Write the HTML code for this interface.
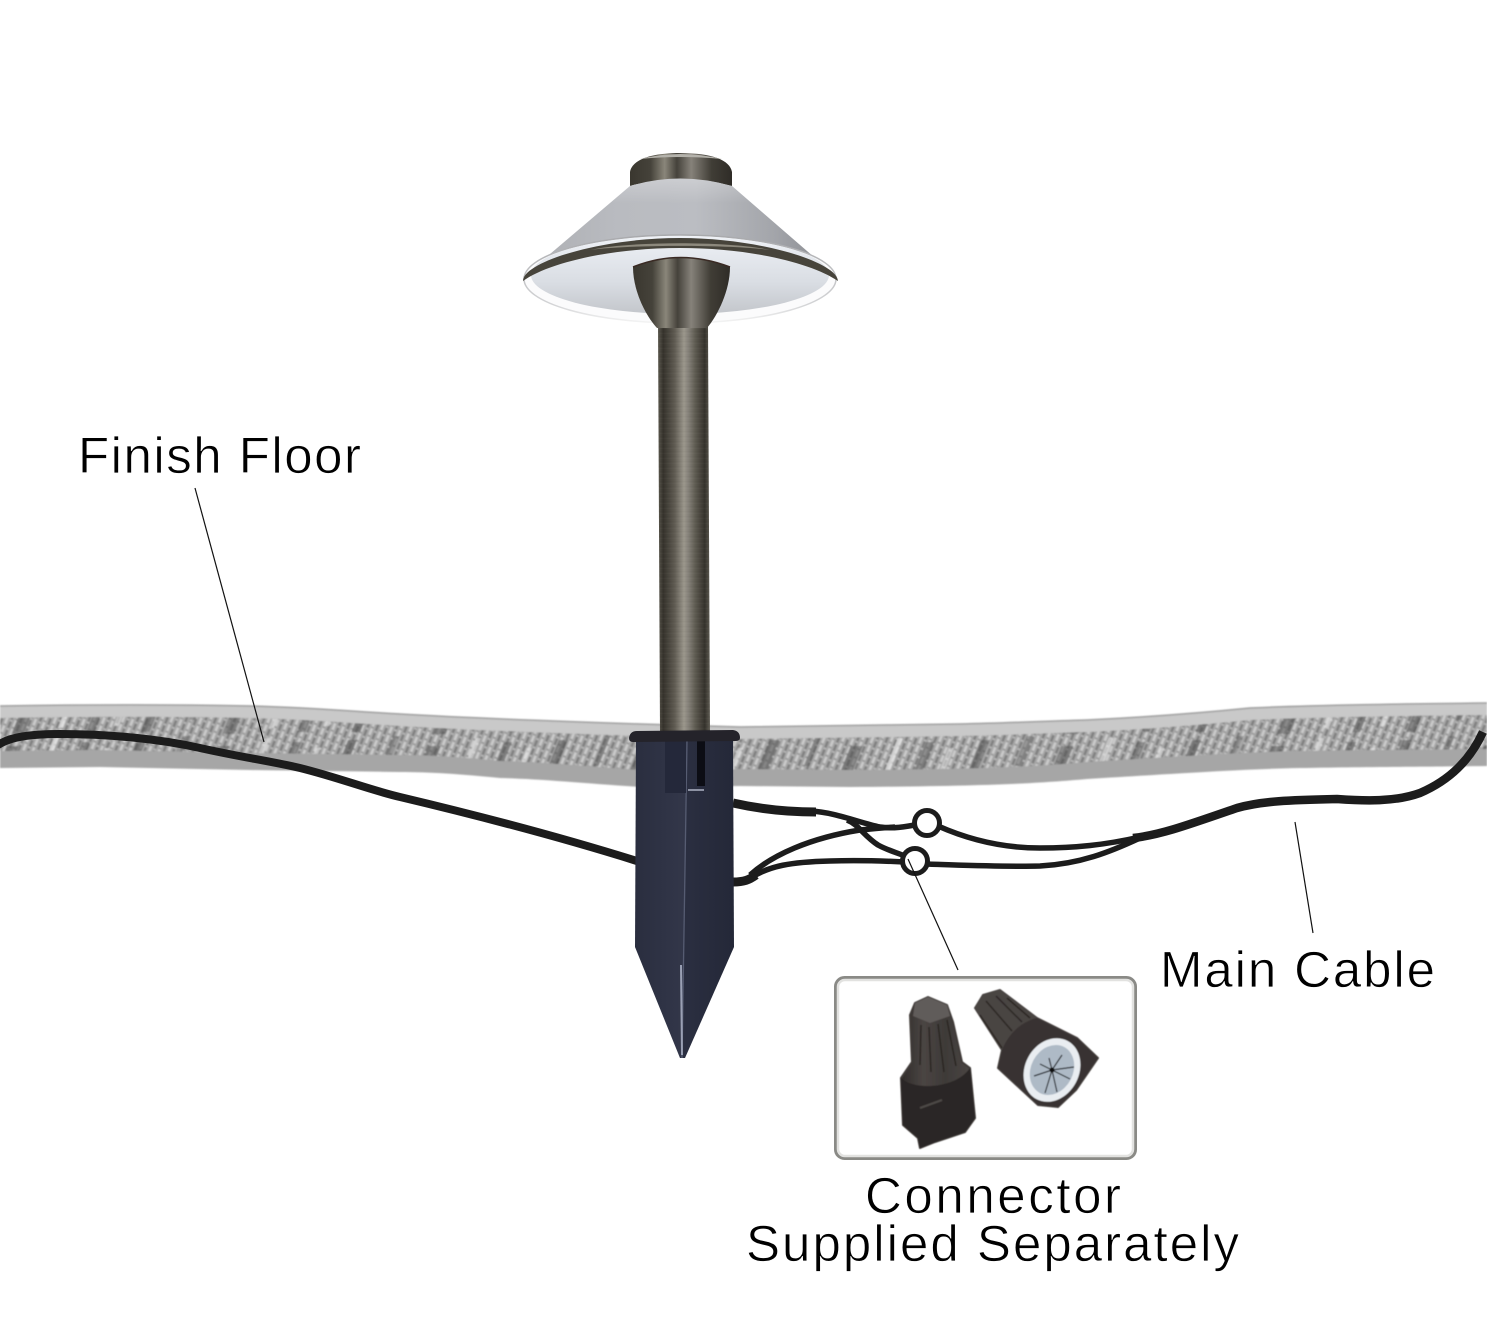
<!DOCTYPE html>
<html lang="en">
<head>
<meta charset="utf-8">
<title>Path light installation diagram</title>
<style>
html,body{margin:0;padding:0;background:#fff;width:1487px;height:1333px;overflow:hidden}
svg{display:block}
text{font-family:"Liberation Sans",Arial,sans-serif;font-size:51px;fill:#000;stroke:#fff;stroke-width:.7px}
</style>
</head>
<body>
<svg xmlns="http://www.w3.org/2000/svg" width="1487" height="1333" viewBox="0 0 1487 1333">
<defs>
  <filter id="soft" x="-2%" y="-10%" width="104%" height="120%"><feGaussianBlur stdDeviation="0.8"/></filter>
  <filter id="soft2" x="-5%" y="-5%" width="110%" height="110%"><feGaussianBlur stdDeviation="0.5"/></filter>
  <pattern id="fine" patternUnits="userSpaceOnUse" width="9" height="9" patternTransform="rotate(22)">
    <rect width="9" height="9" fill="#a6a6a6"/>
    <rect x="0" width="2.5" height="9" fill="#808080"/>
    <rect x="4.5" width="2.5" height="9" fill="#cbcbcb"/>
    <rect x="4.5" y="3" width="2.5" height="2" fill="#9a9a9a"/>
    <rect x="0" y="6" width="2.5" height="2" fill="#b5b5b5"/>
  </pattern>
  <pattern id="coarse" patternUnits="userSpaceOnUse" width="211" height="46" patternTransform="skewX(-22)">
    <rect x="14" y="4" width="9" height="38" fill="#4c4c4c" opacity=".55"/>
    <rect x="58" y="0" width="6" height="30" fill="#565656" opacity=".45"/>
    <rect x="97" y="10" width="12" height="34" fill="#4a4a4a" opacity=".5"/>
    <rect x="141" y="2" width="5" height="36" fill="#efefef" opacity=".6"/>
    <rect x="171" y="6" width="8" height="36" fill="#505050" opacity=".5"/>
    <rect x="196" y="12" width="5" height="24" fill="#f0f0f0" opacity=".5"/>
  </pattern>
  <pattern id="brush" patternUnits="userSpaceOnUse" width="60" height="5">
    <rect y="1" width="60" height="1" fill="#000" opacity=".025"/>
    <rect y="3" width="60" height="1" fill="#fff" opacity=".02"/>
  </pattern>
  <linearGradient id="stem" x1="0" x2="1" y1="0" y2="0">
    <stop offset="0" stop-color="#5c594f"/><stop offset=".1" stop-color="#35322b"/>
    <stop offset=".32" stop-color="#5f5b52"/><stop offset=".5" stop-color="#9a968b"/>
    <stop offset=".58" stop-color="#86827a"/><stop offset=".72" stop-color="#5d5a50"/>
    <stop offset=".9" stop-color="#35322c"/><stop offset="1" stop-color="#5f5c53"/>
  </linearGradient>
  <linearGradient id="bronze" x1="0" x2="1" y1="0" y2="0">
    <stop offset="0" stop-color="#3a372f"/><stop offset=".2" stop-color="#45423a"/>
    <stop offset=".34" stop-color="#8a867a"/><stop offset=".46" stop-color="#45423b"/>
    <stop offset=".6" stop-color="#86827a"/><stop offset=".8" stop-color="#403d36"/>
    <stop offset="1" stop-color="#2f2c27"/>
  </linearGradient>
  <linearGradient id="shade" x1="0" x2="1" y1="0" y2="0">
    <stop offset="0" stop-color="#acaeb2"/><stop offset=".3" stop-color="#b9bbc0"/>
    <stop offset=".55" stop-color="#bbbdc2"/><stop offset=".8" stop-color="#a3a5aa"/>
    <stop offset="1" stop-color="#85878c"/>
  </linearGradient>
  <linearGradient id="shadeV" x1="0" x2="0" y1="0" y2="1">
    <stop offset="0" stop-color="#fff" stop-opacity=".25"/><stop offset=".25" stop-color="#fff" stop-opacity="0"/>
  </linearGradient>
  <linearGradient id="under" x1="0" x2="0" y1="0" y2="1">
    <stop offset="0" stop-color="#eef1f6"/><stop offset=".6" stop-color="#d9dde3"/>
    <stop offset="1" stop-color="#c3c6cb"/>
  </linearGradient>
  <linearGradient id="rimEdge" x1="0" x2="0" y1="0" y2="1">
    <stop offset="0" stop-color="#a8a9ac"/><stop offset=".8" stop-color="#d4d5d7"/><stop offset="1" stop-color="#f4f4f4"/>
  </linearGradient>
  <linearGradient id="spikeL" x1="0" x2="1" y1="0" y2="0">
    <stop offset="0" stop-color="#2a2e3f"/><stop offset="1" stop-color="#33374a"/>
  </linearGradient>
  <linearGradient id="spikeR" x1="0" x2="1" y1="0" y2="0">
    <stop offset="0" stop-color="#2b2f41"/><stop offset="1" stop-color="#242838"/>
  </linearGradient>
  <linearGradient id="nut" x1="0" x2="1" y1="0" y2="0">
    <stop offset="0" stop-color="#2f2b29"/><stop offset=".3" stop-color="#4a4543"/>
    <stop offset=".6" stop-color="#3e3a38"/><stop offset="1" stop-color="#4c4846"/>
  </linearGradient>
  <clipPath id="bandMid">
    <path d="M0,718 C60,717 150,716 250,718 C320,720 360,724 400,726 C450,729 520,732 640,736 L740,739 C820,738 900,737 960,736 C1010,735 1050,733 1087,732 C1150,729 1200,725 1250,720 C1320,717 1400,716 1487,715 L1487,749 C1400,750 1350,750 1300,751 C1250,752 1200,755 1087,762 C1040,766 1000,769 850,770 L740,769 640,770 C580,766 540,762 500,761 C460,757 430,755 400,755 L250,753 100,750 0,751 Z"/>
  </clipPath>
</defs>

<rect width="1487" height="1333" fill="#fff"/>

<!-- ground band -->
<g filter="url(#soft)">
<path d="M0,706 C60,705 150,704 250,706 C320,708 360,712 400,714 C450,717 520,720 640,724 L740,727 C820,726 900,725 960,724 C1010,723 1050,721 1087,720 C1150,717 1200,713 1250,708 C1320,705 1400,704 1487,703 L1487,766 C1400,767 1350,767 1300,768 C1250,769 1200,772 1087,779 C1040,783 1000,786 850,787 L740,786 640,787 C580,783 540,779 500,778 C460,774 430,772 400,772 L250,770 100,767 0,768 Z" fill="#a6a6a6"/>
<path d="M0,706 C60,705 150,704 250,706 C320,708 360,712 400,714 C450,717 520,720 640,724 L740,727 C820,726 900,725 960,724 C1010,723 1050,721 1087,720 C1150,717 1200,713 1250,708 C1320,705 1400,704 1487,703 L1487,715 C1400,716 1320,717 1250,720 C1200,725 1150,729 1087,732 C1050,733 1010,735 960,736 C900,737 820,738 740,739 L640,736 C520,732 450,729 400,726 C360,724 320,720 250,718 C150,716 60,717 0,718 Z" fill="#c9c9c9"/>
<path d="M0,706 C60,705 150,704 250,706 C320,708 360,712 400,714 C450,717 520,720 640,724 L740,727 C820,726 900,725 960,724 C1010,723 1050,721 1087,720 C1150,717 1200,713 1250,708 C1320,705 1400,704 1487,703" fill="none" stroke="#9c9c9c" stroke-width="1.5"/>
<g clip-path="url(#bandMid)">
  <rect x="0" y="700" width="1487" height="90" fill="url(#fine)"/>
  <rect x="0" y="700" width="1487" height="90" fill="url(#coarse)"/>
</g>
</g>

<!-- leader lines -->
<g stroke="#111" stroke-width="1.2" fill="none">
  <line x1="195" y1="488" x2="264" y2="742"/>
  <line x1="1295" y1="822" x2="1313" y2="933"/>
</g>

<!-- left cable -->
<path d="M-2,745 C10,737 30,734 60,734 C110,734 160,739 200,748 C240,757 270,761 300,768 C340,778 370,790 400,797 C480,816 570,840 640,862" fill="none" stroke="#1c1c1c" stroke-width="8"/>

<!-- right wires -->
<g fill="none" stroke="#1c1c1c" stroke-linecap="butt">
  <path d="M733,803 C755,808 785,812 816,812" stroke-width="9"/>
  <path d="M810,811 C835,812 860,823 880,827 C892,829 905,827 920,824" stroke-width="5.5"/>
  <path d="M847,820 C858,824 864,836 878,845 C887,850 895,852 905,856" stroke-width="5.5"/>
  <path d="M733,882 C744,882 749,880 756,875" stroke-width="9"/>
  <path d="M750,875 C772,855 810,838 860,830 C870,829 880,828 895,827" stroke-width="5.5"/>
  <path d="M752,877 C770,866 790,862 830,861 C860,860 885,861 905,862" stroke-width="5.5"/>
  <path d="M938,826 C965,838 1000,848 1040,848 C1075,848 1105,845 1140,837" stroke-width="5.5"/>
  <path d="M925,864 C960,865 1000,867 1040,866 C1080,864 1110,852 1140,838" stroke-width="5.5"/>
  <path d="M1133,838 C1160,835 1185,826 1237,808 C1262,801 1290,800 1337,799 C1365,801 1395,802 1420,793 C1450,780 1470,760 1483,732" stroke-width="8.5"/>
</g>
<circle cx="927" cy="823" r="12.5" fill="#fff" stroke="#1c1c1c" stroke-width="5"/>
<circle cx="915" cy="861" r="12.5" fill="#fff" stroke="#1c1c1c" stroke-width="5"/>
<line x1="908" y1="859" x2="958" y2="970" stroke="#111" stroke-width="1.2"/>

<!-- stem -->
<path d="M658,324 L708,324 L710,732 L660,732 Z" fill="url(#stem)"/>
<path d="M658,324 L708,324 L710,732 L660,732 Z" fill="url(#brush)"/>

<!-- lamp head -->
<path d="M630,186 L630,172 C632,160 650,153 680,153 C712,153 730,160 732,172 L732,186 Q680,172 630,186 Z" fill="url(#bronze)"/>
<path d="M640,159 Q680,149 722,159 Q680,155 640,159 Z" fill="#b4b2ab"/>
<path d="M630,186 Q680,171 732,186 L837,277 L523,277 Z" fill="url(#shade)"/>
<path d="M630,186 Q680,171 732,186 L837,277 L523,277 Z" fill="url(#shadeV)"/>
<ellipse cx="680" cy="279" rx="156" ry="44" fill="#fbfbfc" stroke="url(#rimEdge)" stroke-width="1.5"/>
<ellipse cx="680" cy="275" rx="149" ry="39" fill="url(#under)"/>
<path d="M523,281 C523,262 600,238 680,238 C760,238 837,262 838,281 C812,263 750,248 680,248 C610,248 548,263 523,281 Z" fill="#47443b"/>
<path d="M590,250 C630,241 730,241 770,250 C730,244.500 630,244.500 590,250 Z" fill="#8d897d"/>
<path d="M633,267 Q680,248 730,267 C730,290 718,315 707,328 L657,328 C645,315 633,290 633,267 Z" fill="url(#bronze)"/>
<path d="M633,267 Q680,248 730,267" fill="none" stroke="#3a2a24" stroke-width="1.5"/>

<!-- spike -->
<path d="M636,741 L687,741 L682,1058 L680,1058 L635,947 Z" fill="url(#spikeL)"/>
<path d="M687,741 L733,741 L734,947 L685,1058 L682,1058 Z" fill="url(#spikeR)"/>
<path d="M687,741 L682,1058" stroke="#565c72" stroke-width="1.3" fill="none"/>
<path d="M681,965 L682,1055" stroke="#9aa0b4" stroke-width="2" fill="none"/>
<rect x="665" y="741" width="21" height="52" fill="#24283a"/>
<rect x="697" y="741" width="8" height="45" fill="#0c0d14"/>
<path d="M688,790 L704,790" stroke="#8d92a3" stroke-width="2"/>
<path d="M629,738 Q630,731 637,731 L733,730 Q740,731 740,738 Q740,741 735,741 L633,742 Q629,742 629,738 Z" fill="#24232a"/>

<!-- connector box -->
<rect x="835.500" y="977.500" width="300" height="181" rx="9" fill="#fff" stroke="#8a8a86" stroke-width="3"/>
<rect x="838" y="980" width="295" height="176" rx="7" fill="none" stroke="#e2e2e0" stroke-width="2.500"/>

<!-- left wire nut -->
<g filter="url(#soft2)" stroke-linejoin="round">
<path d="M915,1003 L928,997 L947,1005 L953,1022 L962,1062 L970,1068 L975,1118 L965,1132 L935,1142 L920,1148 L918,1138 L903,1125 L901,1078 L912,1062 L910,1015 Z" fill="url(#nut)" stroke="#3f3b39" stroke-width="2"/>
<path d="M915,1003 L928,997 L947,1005 L950,1016 L930,1023 L913,1016 Z" fill="#615c5a"/>
<path d="M901,1078 C912,1090 955,1090 970,1068 L975,1118 L965,1132 L935,1142 L920,1148 L918,1138 L903,1125 Z" fill="#2b2725"/>
<g stroke="#292523" stroke-width="1.5" fill="none">
  <path d="M921,1025 L920,1065"/><path d="M929,1027 L931,1072"/><path d="M938,1024 L944,1072"/><path d="M947,1020 L956,1066"/>
</g>
<path d="M920,1108 L942,1100" stroke="#4e4a47" stroke-width="2"/>

<!-- right wire nut -->
<path d="M975,1008 L983,995 L1000,990 L1037,1018 L1077,1038 L1098,1058 L1076,1090 L1058,1107 L1038,1105 L998,1068 L1002,1050 Z" fill="#4a4543" stroke="#4a4543" stroke-width="2"/>
<path d="M1002,1050 C1008,1035 1020,1022 1037,1018 L1077,1038 L1098,1058 L1076,1090 L1058,1107 L1038,1105 L998,1068 Z" fill="#383331"/>
<g stroke="#2a2624" stroke-width="1.5" fill="none">
  <path d="M986,1001 L1012,1031"/><path d="M996,996 L1022,1022"/><path d="M1007,998 L1030,1018"/><path d="M980,1015 L1002,1048"/>
</g>
<ellipse cx="1052" cy="1070" rx="27" ry="33" transform="rotate(28 1052 1070)" fill="#e9edf1"/>
<ellipse cx="1052" cy="1070" rx="21" ry="26" transform="rotate(28 1052 1070)" fill="#aebac6"/>
<g stroke="#23252b" stroke-width="1.2">
  <path d="M1052,1070 L1049,1058"/><path d="M1052,1070 L1062,1055"/><path d="M1052,1070 L1074,1067"/><path d="M1052,1070 L1070,1079"/>
  <path d="M1052,1070 L1057,1092"/><path d="M1052,1070 L1045,1093"/><path d="M1052,1070 L1034,1076"/><path d="M1052,1070 L1040,1064"/>
</g>
<circle cx="1052" cy="1070" r="2.500" fill="#111"/>
</g>

<!-- labels -->
<text x="78" y="473" textLength="283" lengthAdjust="spacing">Finish Floor</text>
<text x="1160" y="987" textLength="275" lengthAdjust="spacing">Main Cable</text>
<text x="865" y="1213" textLength="256" lengthAdjust="spacing">Connector</text>
<text x="746" y="1261" textLength="493" lengthAdjust="spacing">Supplied Separately</text>
</svg>
</body>
</html>
